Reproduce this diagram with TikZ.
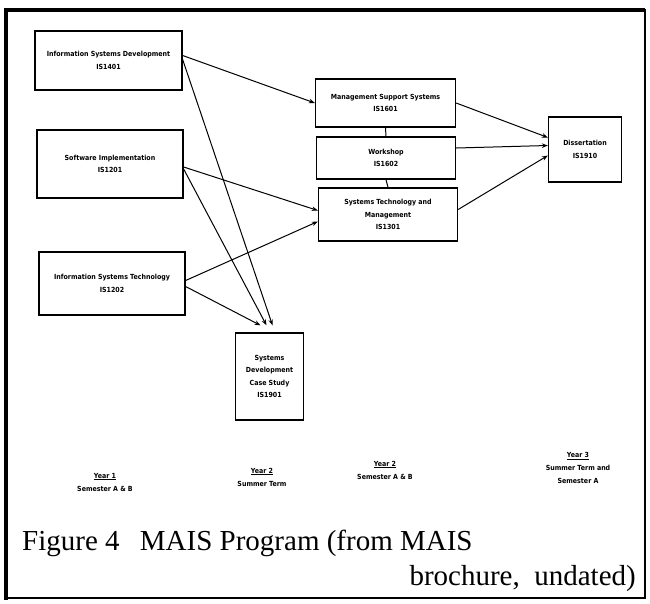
\documentclass[tikz,border=0pt]{standalone}
\usepackage{fontspec}
\setmainfont{Liberation Serif}
\newfontfamily\boxfont{DejaVu Sans Condensed}
\usetikzlibrary{arrows.meta,calc}

\begin{document}
\begin{tikzpicture}[x=1pt,y=-1pt,
  course/.style={draw, line width=1.3pt, align=center, inner sep=0pt,
    font=\boxfont\bfseries\fontsize{7}{12.5}\selectfont},
  flow/.style={line width=1pt, -{Stealth[length=6pt,width=4.5pt]}},
  link/.style={line width=1pt},
  term/.style={align=center, inner sep=0pt,
    font=\boxfont\bfseries\fontsize{7}{13}\selectfont},
  caption/.style={inner sep=0pt, font=\fontsize{29}{29}\selectfont}]

% page and frame
\useasboundingbox (0,0) rectangle (650,603);
\draw[line width=2.5pt] (6,10) rectangle (645,598);
\draw[line width=4pt] (6,600) -- (6,10) -- (645,10);

% first-year courses
\node[course, minimum width=147pt, minimum height=59pt] (isd) at (108.5,60.5)
  {Information Systems Development\\IS1401};
\node[course, minimum width=146pt, minimum height=68pt] (si) at (110,164)
  {Software Implementation\\IS1201};
\node[course, minimum width=146pt, minimum height=63pt] (ist) at (112,283.5)
  {Information Systems Technology\\IS1202};

% summer case study
\node[course, minimum width=68pt, minimum height=87pt] (sdcs) at (269.5,376.5)
  {Systems\\Development\\Case Study\\IS1901};

% second-year courses
\node[course, minimum width=140pt, minimum height=48pt] (mss) at (385.5,103)
  {Management Support Systems\\IS1601};
\node[course, minimum width=139pt, minimum height=42pt] (ws) at (386,158)
  {Workshop\\IS1602};
\node[course, minimum width=139pt, minimum height=53pt] (stm) at (388,214.5)
  {Systems Technology and\\Management\\IS1301};

% final year
\node[course, minimum width=73pt, minimum height=65pt] (diss) at (585,149.5)
  {Dissertation\\IS1910};

% prerequisites
\draw[flow] ($(isd.east)+(0,-5)$) -- (mss.west);
\draw[flow] ($(isd.east)+(0,-1)$) -- ($(sdcs.north)+(3,-7)$);
\draw[flow] ($(si.east)+(0,3)$) -- ($(stm.west)+(0,-4)$);
\draw[flow] ($(si.east)+(0,5)$) -- ($(sdcs.north)+(-3,-7)$);
\draw[flow] ($(ist.east)+(0,-3)$) -- ($(stm.west)+(0,7)$);
\draw[flow] ($(ist.east)+(0,3)$) -- ($(sdcs.north)+(-9,-7)$);
\draw[link] (mss.south) -- (ws.north);
\draw[link] (ws.south) -- (stm.north);
\draw[flow] (mss.east) -- ($(diss.west)+(0,-12)$);
\draw[flow] ($(ws.east)+(0,-10)$) -- ($(diss.west)+(0,-4)$);
\draw[flow] ($(stm.east)+(0,-5)$) -- ($(diss.west)+(0,6)$);

% terms
\node[term] (t1) at (105,482) {\underline{Year 1}\\Semester A \& B};
\node[term] (t2) at (262,477) {\underline{Year 2}\\Summer Term};
\node[term] (t3) at (385,470) {\underline{Year 2}\\Semester A \& B};
\node[term] (t4) at (578,468) {\underline{Year 3}\\Summer Term and\\Semester A};

% caption
\node[caption, anchor=base west] (cap1) at (22,550)
  {Figure 4\hspace{0.7em}MAIS Program (from MAIS};
\node[caption, anchor=base east] (cap2) at (636,585)
  {brochure,\ \ undated)};
\end{tikzpicture}
\end{document}
